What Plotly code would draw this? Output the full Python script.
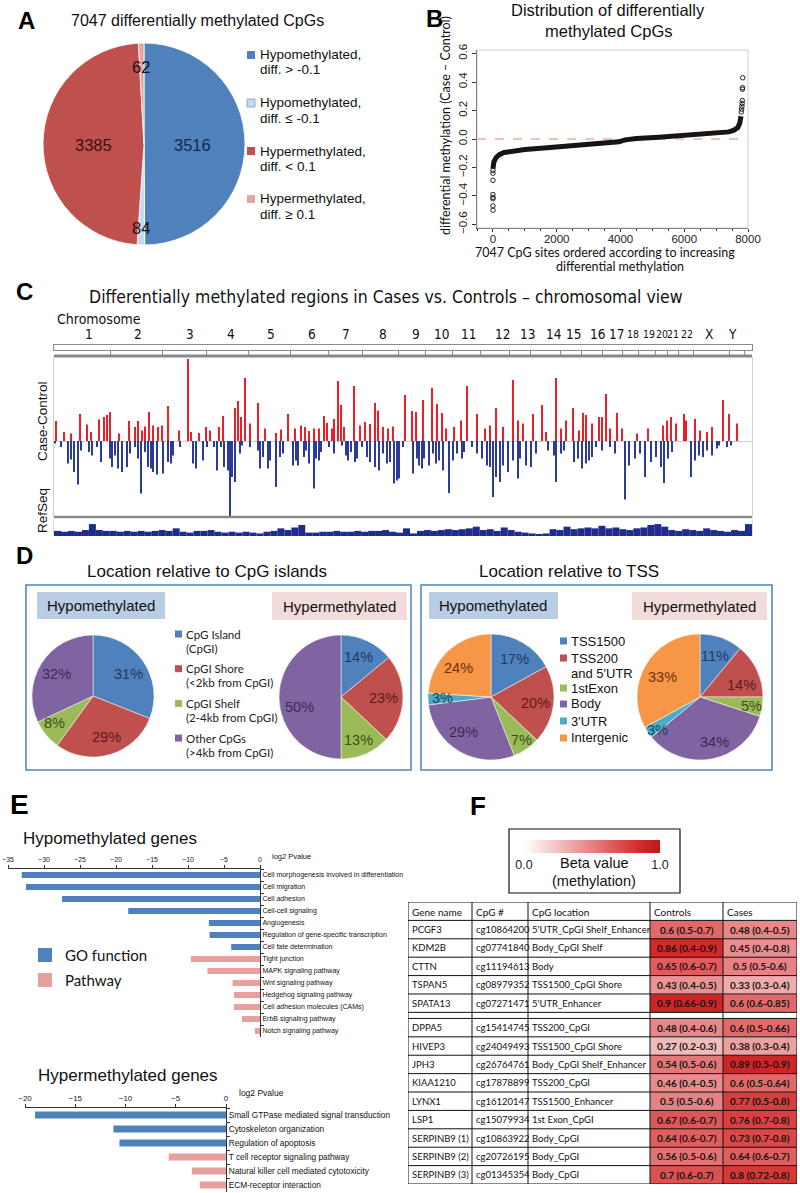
import plotly.graph_objects as go

# ======================= DATA =======================
# Panel A
a_values = [3516, 84, 3385, 62]
a_colors = ["#4f81bd", "#c6d9f1", "#c0504d", "#dfa6a5"]
a_legend = [("Hypomethylated,", "diff. > -0.1"), ("Hypomethylated,", "diff. \u2264 -0.1"),
            ("Hypermethylated,", "diff. < 0.1"), ("Hypermethylated,", "diff. \u2265 0.1")]

# Panel B
b_curve_x = [0, 30, 100, 200, 350, 600, 1000, 1700, 2500, 3300, 3800, 3950, 4150, 4500,
             5200, 5900, 6600, 7100, 7400, 7560, 7680, 7740, 7780]
b_curve_y = [-0.21, -0.16, -0.13, -0.11, -0.095, -0.085, -0.074, -0.062, -0.05, -0.036, -0.027,
             -0.02, -0.006, 0.004, 0.013, 0.022, 0.031, 0.04, 0.05, 0.062, 0.08, 0.11, 0.16]
b_out_x = [0, 0, 0, 0, 0, 0, 0, 0, 7790, 7800, 7810, 7815, 7820, 7825, 7830, 7835]
b_out_y = [-0.24, -0.29, -0.39, -0.41, -0.42, -0.47, -0.5, -0.22, 0.19, 0.21, 0.23, 0.25, 0.27,
           0.35, 0.36, 0.43]

# Panel C (genome position in Mb, Case-Control difference)
chrom_names = ["1", "2", "3", "4", "5", "6", "7", "8", "9", "10", "11", "12", "13", "14", "15",
               "16", "17", "18", "19", "20", "21", "22", "X", "Y"]
chrom_centers = [155, 373, 604, 786, 964, 1146, 1297, 1461, 1608, 1723, 1839, 1990, 2101, 2221,
                 2309, 2412, 2500, 2571, 2642, 2700, 2749, 2811, 2909, 3015]
chrom_bounds = [249, 484, 679, 866, 1052, 1221, 1368, 1532, 1652, 1772, 1892, 2025, 2118, 2251,
                2344, 2438, 2526, 2597, 2673, 2726, 2775, 2842, 3001, 3068]
red_pos = [9, 44, 75, 115, 147, 164, 200, 222, 235, 249, 289, 333, 360, 373, 391, 404, 422, 440,
           462, 480, 506, 555, 595, 608, 644, 675, 693, 733, 750, 804, 817, 830, 848, 870, 906,
           937, 986, 1008, 1039, 1070, 1097, 1114, 1132, 1154, 1177, 1199, 1212, 1234, 1243,
           1261, 1274, 1288, 1332, 1359, 1381, 1403, 1425, 1439, 1461, 1483, 1505, 1558, 1590,
           1607, 1639, 1678, 1701, 1723, 1740, 1776, 1807, 1834, 1878, 1914, 1936, 1963, 1994,
           2038, 2060, 2083, 2127, 2167, 2185, 2229, 2251, 2273, 2304, 2331, 2349, 2362, 2389,
           2420, 2433, 2451, 2469, 2500, 2522, 2589, 2638, 2704, 2722, 2740, 2762, 2798, 2806,
           2846, 2868, 2900, 2922, 2971, 2998, 3033]
red_val = [0.10, 0.045, 0.037, 0.135, 0.083, 0.045, 0.107, 0.12, 0.13, 0.145, 0.037, 0.10, 0.07,
           0.10, 0.053, 0.073, 0.145, 0.078, 0.07, 0.078, 0.175, 0.053, 0.41, 0.045, 0.04, 0.07,
           0.053, 0.07, 0.125, 0.165, 0.20, 0.12, 0.315, 0.087, 0.19, 0.062, 0.04, 0.057, 0.135,
           0.062, 0.078, 0.07, 0.05, 0.062, 0.062, 0.125, 0.09, 0.062, 0.11, 0.30, 0.18, 0.07,
           0.275, 0.078, 0.095, 0.085, 0.19, 0.153, 0.07, 0.062, 0.073, 0.23, 0.15, 0.145, 0.205,
           0.265, 0.185, 0.14, 0.062, 0.07, 0.103, 0.275, 0.135, 0.062, 0.078, 0.165, 0.07, 0.305,
           0.103, 0.087, 0.135, 0.18, 0.045, 0.315, 0.062, 0.103, 0.165, 0.053, 0.14, 0.13, 0.087,
           0.12, 0.12, 0.235, 0.062, 0.14, 0.062, 0.037, 0.062, 0.078, 0.103, 0.12, 0.087, 0.135,
           0.103, 0.11, 0.053, 0.045, 0.07, 0.205, 0.135, 0.087]
blue_pos = [4, 31, 62, 75, 89, 107, 120, 155, 169, 191, 209, 249, 258, 271, 284, 302, 324, 338,
            360, 373, 386, 404, 417, 431, 440, 457, 484, 506, 520, 528, 560, 617, 631, 662, 679,
            711, 724, 742, 755, 773, 782, 790, 804, 826, 835, 870, 906, 915, 928, 950, 959, 986,
            1004, 1017, 1061, 1075, 1084, 1110, 1119, 1132, 1155, 1164, 1177, 1186, 1221, 1243,
            1279, 1297, 1306, 1319, 1337, 1346, 1368, 1390, 1403, 1426, 1443, 1461, 1479, 1492,
            1510, 1523, 1532, 1550, 1594, 1612, 1621, 1634, 1643, 1665, 1683, 1696, 1710, 1728,
            1754, 1772, 1790, 1812, 1821, 1856, 1879, 1901, 1923, 1936, 1950, 1963, 1981, 1994,
            2016, 2038, 2061, 2069, 2096, 2118, 2141, 2194, 2220, 2229, 2252, 2265, 2309, 2327,
            2345, 2363, 2376, 2389, 2407, 2434, 2469, 2491, 2536, 2554, 2580, 2602, 2625, 2651,
            2674, 2696, 2709, 2727, 2745, 2829, 2847, 2864, 2882, 2900, 2922, 2945, 2953, 2989,
            3007]
blue_val = [-0.013, -0.03, -0.113, -0.093, -0.155, -0.217, -0.047, -0.055, -0.072, -0.03,
            -0.105, -0.088, -0.13, -0.072, -0.138, -0.155, -0.13, -0.063, -0.03, -0.088,
            -0.263, -0.055, -0.13, -0.138, -0.155, -0.167, -0.163, -0.105, -0.113, -0.072,
            -0.03, -0.113, -0.138, -0.097, -0.03, -0.03, -0.147, -0.03, -0.13, -0.147,
            -0.377, -0.18, -0.205, -0.063, -0.022, -0.03, -0.047, -0.138, -0.08, -0.138,
            -0.097, -0.23, -0.08, -0.063, -0.122, -0.097, -0.122, -0.08, -0.047, -0.113,
            -0.238, -0.088, -0.097, -0.055, -0.03, -0.063, -0.022, -0.072, -0.097, -0.055,
            -0.105, -0.088, -0.03, -0.08, -0.105, -0.13, -0.147, -0.063, -0.113, -0.105,
            -0.213, -0.197, -0.188, -0.03, -0.163, -0.088, -0.122, -0.138, -0.088, -0.122,
            -0.063, -0.113, -0.097, -0.147, -0.26, -0.097, -0.063, -0.088, -0.055, -0.03,
            -0.063, -0.088, -0.122, -0.13, -0.28, -0.18, -0.205, -0.122, -0.155, -0.097,
            -0.188, -0.088, -0.122, -0.13, -0.063, -0.047, -0.072, -0.205, -0.063, -0.047,
            -0.105, -0.088, -0.138, -0.113, -0.097, -0.08, -0.03, -0.047, -0.03, -0.063,
            -0.293, -0.122, -0.088, -0.063, -0.18, -0.105, -0.08, -0.13, -0.21, -0.088,
            -0.055, -0.18, -0.097, -0.072, -0.08, -0.047, -0.072, -0.038, -0.022, -0.03, -0.022]
refseq_density = [0.3, 0.25, 0.3, 0.25, 0.35, 0.7, 0.35, 0.3, 0.3, 0.25, 0.3, 0.25, 0.3, 0.25,
                  0.3, 0.35, 0.3, 0.45, 0.25, 0.2, 0.3, 0.3, 0.35, 0.25, 0.2, 0.25, 0.2, 0.25,
                  0.2, 0.15, 0.25, 0.3, 0.45, 0.35, 0.5, 0.65, 0.2, 0.2, 0.25, 0.25, 0.3, 0.25,
                  0.25, 0.3, 0.25, 0.3, 0.3, 0.35, 0.25, 0.2, 0.45, 0.15, 0.3, 0.35, 0.3, 0.35,
                  0.4, 0.35, 0.4, 0.45, 0.55, 0.35, 0.4, 0.3, 0.5, 0.35, 0.25, 0.2, 0.15, 0.1,
                  0.15, 0.4, 0.35, 0.55, 0.4, 0.45, 0.5, 0.45, 0.6, 0.45, 0.5, 0.4, 0.35, 0.45,
                  0.5, 0.65, 0.7, 0.55, 0.35, 0.3, 0.4, 0.35, 0.3, 0.45, 0.35, 0.3, 0.25, 0.35,
                  0.3, 0.7]
refseq_bin_mb = 31

# Panel D
cpg_cats = ["CpG Island", "CpGI Shore", "CpGI Shelf", "Other CpGs"]
cpg_legend = [("CpG Island", "(CpGI)"), ("CpGI Shore", "(<2kb from CpGI)"),
              ("CpGI Shelf", "(2-4kb from CpGI)"), ("Other CpGs", "(>4kb from CpGI)")]
cpg_hypo = [31, 29, 8, 32]
cpg_hyper = [14, 23, 13, 50]
tss_cats = ["TSS1500", "TSS200 and 5'UTR", "1stExon", "Body", "3'UTR", "Intergenic"]
tss_legend = [("TSS1500",), ("TSS200", "and 5'UTR"), ("1stExon",), ("Body",), ("3'UTR",), ("Intergenic",)]
tss_hypo = [17, 20, 7, 29, 3, 24]
tss_hyper = [11, 14, 5, 34, 3, 33]
d_colors = ["#4f81bd", "#c0504d", "#9bbb59", "#8064a2", "#4bacc6", "#f79646"]
d_text_colors = ["#1f3864", "#5c1a19", "#3d4f1c", "#3a2a52", "#17475a", "#6b3309"]

# Panel E
hypo_terms = ["Cell morphogenesis involved in differentiation", "Cell migration", "Cell adhesion",
              "Cell-cell signaling", "Angiogenesis", "Regulation of gene-specific transcription",
              "Cell fate determination", "Tight junction", "MAPK signaling pathway",
              "Wnt signaling pathway", "Hedgehog signaling pathway", "Cell adhesion molecules (CAMs)",
              "ErbB signaling pathway", "Notch signaling pathway"]
hypo_log2p = [-33.1, -32.5, -27.5, -18.3, -7.1, -7.0, -4.0, -9.6, -7.3, -3.8, -3.6, -3.6, -2.5, -0.7]
hypo_kind = ["GO", "GO", "GO", "GO", "GO", "GO", "GO",
             "Pathway", "Pathway", "Pathway", "Pathway", "Pathway", "Pathway", "Pathway"]
hyper_terms = ["Small GTPase mediated signal transduction", "Cytoskeleton organization",
               "Regulation of apoptosis", "T cell receptor signaling pathway",
               "Natural killer cell mediated cytotoxicity", "ECM-receptor interaction"]
hyper_log2p = [-19.0, -11.2, -10.6, -5.7, -3.4, -2.6]
hyper_kind = ["GO", "GO", "GO", "Pathway", "Pathway", "Pathway"]
hypo_ticks = [-35, -30, -25, -20, -15, -10, -5, 0]
hyper_ticks = [-20, -15, -10, -5, 0]

# Panel F
tbl_header = ["Gene name", "CpG #", "CpG location", "Controls", "Cases"]
top_genes = ["PCGF3", "KDM2B", "CTTN", "TSPAN5", "SPATA13"]
top_cpg = ["cg10864200", "cg07741840", "cg11194613", "cg08979352", "cg07271471"]
top_loc = ["5'UTR_CpGI Shelf_Enhancer", "Body_CpGI Shelf", "Body", "TSS1500_CpGI Shore", "5'UTR_Enhancer"]
top_ctrl = [0.6, 0.86, 0.65, 0.43, 0.9]
top_ctrl_rng = ["0.5-0.7", "0.4-0.9", "0.6-0.7", "0.4-0.5", "0.66-0.9"]
top_case = [0.48, 0.45, 0.5, 0.33, 0.6]
top_case_rng = ["0.4-0.5", "0.4-0.8", "0.5-0.6", "0.3-0.4", "0.6-0.85"]
bot_genes = ["DPPA5", "HIVEP3", "JPH3", "KIAA1210", "LYNX1", "LSP1", "SERPINB9 (1)",
             "SERPINB9 (2)", "SERPINB9 (3)"]
bot_cpg = ["cg15414745", "cg24049493", "cg26764761", "cg17878899", "cg16120147", "cg15079934",
           "cg10863922", "cg20726195", "cg01345354"]
bot_loc = ["TSS200_CpGI", "TSS1500_CpGI Shore", "Body_CpGI Shelf_Enhancer", "TSS200_CpGI",
           "TSS1500_Enhancer", "1st Exon_CpGI", "Body_CpGI", "Body_CpGI", "Body_CpGI"]
bot_ctrl = [0.48, 0.27, 0.54, 0.46, 0.5, 0.67, 0.64, 0.56, 0.7]
bot_ctrl_rng = ["0.4-0.6", "0.2-0.3", "0.5-0.6", "0.4-0.5", "0.5-0.6", "0.6-0.7", "0.6-0.7",
                "0.5-0.6", "0.6-0.7"]
bot_case = [0.6, 0.38, 0.89, 0.6, 0.77, 0.76, 0.73, 0.64, 0.8]
bot_case_rng = ["0.5-0.66", "0.3-0.4", "0.5-0.9", "0.5-0.64", "0.5-0.8", "0.7-0.8", "0.7-0.8",
                "0.6-0.7", "0.72-0.8"]
beta_scale = [[0, "#ffffff"], [0.85, "#d42a2a"], [1, "#b81a1a"]]
col_widths = [64, 56, 122, 73, 74]

# ======================= HELPERS =======================
W, H = 800, 1193
ARIAL = "Liberation Sans, Arial, sans-serif"
NARROW = "Liberation Sans Narrow, Arial Narrow, DejaVu Sans Condensed, Liberation Sans, sans-serif"
CAL = "Lato, Carlito, Calibri, sans-serif"


def fx(p):
    return p / W


def fy(p):
    return 1 - p / H


annotations = []
shapes = []


def ann(x, y, text, size=12, color="#111", family=ARIAL, xanchor="center", yanchor="middle",
        angle=0, xref="paper"):
    annotations.append(dict(x=fx(x) if xref == "paper" else x, y=fy(y), xref=xref, yref="paper",
                            text=text, showarrow=False, textangle=angle,
                            font=dict(size=size, color=color, family=family),
                            xanchor=xanchor, yanchor=yanchor))


def rect(x0, y0, x1, y1, fill="rgba(0,0,0,0)", line=None, lw=1, layer="above"):
    shapes.append(dict(type="rect", xref="paper", yref="paper", x0=fx(x0), x1=fx(x1),
                       y0=fy(y1), y1=fy(y0), fillcolor=fill, layer=layer,
                       line=dict(color=line if line else "rgba(0,0,0,0)", width=lw if line else 0)))


def hline(x0, x1, y, color, width=1, dash="solid"):
    shapes.append(dict(type="line", xref="paper", yref="paper", x0=fx(x0), x1=fx(x1),
                       y0=fy(y), y1=fy(y), line=dict(color=color, width=width, dash=dash)))


def pie_domain(cx, cy, r):
    return dict(x=[fx(cx - r), fx(cx + r)], y=[fy(cy + r), fy(cy - r)])


fig = go.Figure()

# ======================= PANEL A =======================
ann(26, 20, "<b>A</b>", 24, "#000")
ann(197, 20, "7047 differentially methylated CpGs", 16, "#111")
fig.add_trace(go.Pie(values=a_values, marker=dict(colors=a_colors, line=dict(color="white", width=0.8)),
                     sort=False, direction="clockwise", textinfo="none", hoverinfo="value",
                     domain=pie_domain(144, 144, 101), showlegend=False))
ann(192, 145, str(a_values[0]), 16.5, "#14284b")
ann(141, 228, str(a_values[1]), 16.5, "#111")
ann(93, 145, str(a_values[2]), 16.5, "#3b1010")
ann(141, 67, str(a_values[3]), 16.5, "#111")
for i, (l1, l2) in enumerate(a_legend):
    y0 = 55 + i * 48
    rect(247, y0 - 4, 255, y0 + 4, fill=a_colors[i],
         line="#7f9fc6" if i == 1 else None, lw=0.8)
    ann(258, y0, l1, 13.5, "#111", xanchor="left")
    ann(258, y0 + 15, l2, 13.5, "#111", xanchor="left")

# ======================= PANEL B =======================
ann(434, 18, "<b>B</b>", 24, "#000")
ann(608, 10, "Distribution of differentially", 16.5, "#111")
ann(608, 31, "methylated CpGs", 16.5, "#111")
fig.add_trace(go.Scatter(x=b_curve_x, y=b_curve_y, mode="lines", line=dict(color="#151515", width=5),
                         xaxis="x", yaxis="y", showlegend=False, hoverinfo="skip"))
fig.add_trace(go.Scatter(x=b_out_x, y=b_out_y, mode="markers", xaxis="x", yaxis="y", showlegend=False,
                         marker=dict(symbol="circle-open", size=4.5, color="#222", line=dict(width=1)),
                         hoverinfo="skip"))
rect(477, 50, 748, 228, line="#cfcfcf", lw=1)
ann(445, 126, "differential methylation (Case \u2013 Control)", 12.5, "#111", family=CAL, angle=-90)
ann(605, 252, "7047 CpG sites ordered according to increasing", 12.5, "#111", family=CAL)
ann(620, 267, "differential methylation", 12.5, "#111", family=CAL)

# ======================= PANEL C =======================
ann(24, 292, "<b>C</b>", 24, "#000")
ann(386, 297, "Differentially methylated regions in Cases vs. Controls \u2013 chromosomal view", 17.5,
    "#111", family=NARROW)
ann(55, 319, "Chromosome", 14, "#111", family=NARROW, xanchor="left")
for name, c in zip(chrom_names, chrom_centers):
    sz = 10.5 if name in ("18", "19", "20", "21", "22") else 13.5
    ann(c, 334, name, sz, "#111", family=NARROW, xref="x3")
fig.add_trace(go.Bar(x=red_pos, y=red_val, width=4.6, marker=dict(color="#e8202a", line=dict(width=0)),
                     xaxis="x2", yaxis="y2", showlegend=False, hoverinfo="skip"))
fig.add_trace(go.Bar(x=blue_pos, y=blue_val, width=4.6, marker=dict(color="#2c3b9a", line=dict(width=0)),
                     xaxis="x2", yaxis="y2", showlegend=False, hoverinfo="skip"))
fig.add_trace(go.Bar(x0=refseq_bin_mb / 2, dx=refseq_bin_mb, y=refseq_density, width=refseq_bin_mb,
                     marker=dict(color="#1f2b8e", line=dict(width=0)), xaxis="x4", yaxis="y4",
                     showlegend=False, hoverinfo="skip"))
fig.add_trace(go.Scatter(x=chrom_centers, y=[0.5] * len(chrom_centers), mode="markers",
                         marker=dict(size=1, opacity=0), xaxis="x3", yaxis="y3", showlegend=False,
                         hoverinfo="skip"))
hline(54, 752, 356, "#8a8a8a", 3)
hline(54, 752, 517, "#8a8a8a", 2.5)
ann(42, 421, "Case-Control", 13.5, "#111", angle=-90)
ann(42, 511, "RefSeq", 13.5, "#111", angle=-90)

# ======================= PANEL D =======================
ann(24, 555, "<b>D</b>", 24, "#000")
ann(207, 571, "Location relative to CpG islands", 17, "#111")
ann(569, 571, "Location relative to TSS", 17, "#111")
rect(26, 585, 411, 770, line="#4f81bd", lw=1.5)
rect(421, 585, 772, 770, line="#4f81bd", lw=1.5)
for (x0, x1) in [(37, 165), (429, 558)]:
    rect(x0, 592, x1, 619, fill="#b9cde5", layer="below")
    ann((x0 + x1) / 2, 605.5, "Hypomethylated", 15, "#111")
for (x0, x1) in [(272, 407), (632, 767)]:
    rect(x0, 592, x1, 620, fill="#f2dcdb", layer="below")
    ann((x0 + x1) / 2, 606, "Hypermethylated", 15, "#111")

for vals, (cx, cy, r) in [(cpg_hypo, (93, 696, 61)), (cpg_hyper, (341, 697, 62))]:
    fig.add_trace(go.Pie(values=vals, labels=cpg_cats, marker=dict(colors=d_colors[:4],
                         line=dict(color="white", width=0.5)), sort=False, direction="clockwise",
                         textinfo="none", hoverinfo="label+value", domain=pie_domain(cx, cy, r),
                         showlegend=False))
for vals, (cx, cy, r) in [(tss_hypo, (491, 697, 63)), (tss_hyper, (700, 697, 63))]:
    fig.add_trace(go.Pie(values=vals, labels=tss_cats, marker=dict(colors=d_colors,
                         line=dict(color="white", width=0.5)), sort=False, direction="clockwise",
                         textinfo="none", hoverinfo="label+value", domain=pie_domain(cx, cy, r),
                         showlegend=False))

cpg_hypo_pos = [(128, 674), (106, 737), (54, 723), (57, 674)]
cpg_hyper_pos = [(358, 657), (383, 698), (358, 740), (299, 707)]
tss_hypo_pos = [(514, 659), (535, 703), (521, 740), (463, 732), (442, 698), (458, 668)]
tss_hyper_pos = [(715, 656), (741, 685), (751, 706), (714, 742), (657, 730), (662, 677)]
for vals, pos in [(cpg_hypo, cpg_hypo_pos), (cpg_hyper, cpg_hyper_pos),
                  (tss_hypo, tss_hypo_pos), (tss_hyper, tss_hyper_pos)]:
    for i, (v, (x, y)) in enumerate(zip(vals, pos)):
        ann(x, y, f"{v}%", 14.5, d_text_colors[i])

for i, (l1, l2) in enumerate(cpg_legend):
    y0 = 634 + i * 34.7
    rect(175, y0 - 3.5, 182, y0 + 3.5, fill=d_colors[i])
    ann(184, y0, l1, 11.5, "#222", family=CAL, xanchor="left")
    ann(184, y0 + 14, l2, 11.5, "#222", family=CAL, xanchor="left")
tss_y = [641, 658, 688, 704, 721, 738]
for i, lines in enumerate(tss_legend):
    rect(560, tss_y[i] - 3.5, 567, tss_y[i] + 3.5, fill=d_colors[i])
    ann(569, tss_y[i], lines[0], 13, "#111", xanchor="left")
    if len(lines) > 1:
        ann(569, tss_y[i] + 15, lines[1], 13, "#111", xanchor="left")

# ======================= PANEL E =======================
GO_C, PW_C = "#4f81bd", "#e6a09e"
ann(19, 805, "<b>E</b>", 28, "#000")
ann(21, 838, "Hypomethylated genes", 17, "#111", xanchor="left")
ann(36, 1075, "Hypermethylated genes", 17, "#111", xanchor="left")
for kind, col in [("GO", GO_C), ("Pathway", PW_C)]:
    fig.add_trace(go.Bar(y=[t for t, k in zip(hypo_terms, hypo_kind) if k == kind],
                         x=[v for v, k in zip(hypo_log2p, hypo_kind) if k == kind],
                         orientation="h", width=0.5, marker=dict(color=col, line=dict(width=0)),
                         xaxis="x5", yaxis="y5", showlegend=False, hoverinfo="x+y"))
    fig.add_trace(go.Bar(y=[t for t, k in zip(hyper_terms, hyper_kind) if k == kind],
                         x=[v for v, k in zip(hyper_log2p, hyper_kind) if k == kind],
                         orientation="h", width=0.5, marker=dict(color=col, line=dict(width=0)),
                         xaxis="x6", yaxis="y6", showlegend=False, hoverinfo="x+y"))
ann(270, 856, "log2 Pvalue", 7.5, "#111", xanchor="left")
ann(237, 1093, "log2 Pvalue", 8.5, "#111", xanchor="left")
rect(38, 948, 52, 962, fill=GO_C)
rect(38, 973, 52, 987, fill=PW_C)
ann(63, 955, "GO function", 15, "#111", family=CAL, xanchor="left")
ann(63, 980, "Pathway", 15, "#111", family=CAL, xanchor="left")

# ======================= PANEL F =======================
ann(478, 806, "<b>F</b>", 26, "#000")
rect(509, 829, 680, 893, line="#111", lw=1.2)
ann(594, 863, "Beta value", 14.5, "#111")
ann(594, 881, "(methylation)", 14.5, "#111")

col_edges = [0]
for w_ in col_widths:
    col_edges.append(col_edges[-1] + w_)
n_top, n_bot, gap = len(top_genes), len(bot_genes), 0.33
row_edges = [float(i) for i in range(n_top + 2)]            # header + top rows
row_edges += [n_top + 1 + gap + i for i in range(n_bot + 1)]  # gap + bottom rows
top_rows_mid = [1.5 + i for i in range(n_top)]
bot_rows_mid = [n_top + 1 + gap + 0.5 + i for i in range(n_bot)]
z = [[c, k] for c, k in zip(top_ctrl, top_case)] + [[None, None]] + \
    [[c, k] for c, k in zip(bot_ctrl, bot_case)]
fig.add_trace(go.Heatmap(
    x=col_edges[3:], y=row_edges[1:], z=z, colorscale=beta_scale, zmin=0, zmax=1,
    xaxis="x8", yaxis="y8", hoverinfo="z", showscale=True,
    colorbar=dict(orientation="h", x=fx(592), xanchor="center", y=fy(840), yanchor="top",
                  len=136, lenmode="pixels", thickness=13, thicknessmode="pixels", xpad=0,
                  ypad=0, outlinewidth=0, tickvals=[0, 1], ticktext=["0.0", "1.0"], ticks="",
                  tickfont=dict(size=12.5, family=ARIAL, color="#222"))))
y_max = row_edges[-1]
for e in col_edges:
    shapes.append(dict(type="line", xref="x8", yref="y8", x0=e, x1=e, y0=0, y1=y_max,
                       line=dict(color="#111", width=1)))
for e in row_edges:
    shapes.append(dict(type="line", xref="x8", yref="y8", x0=0, x1=col_edges[-1], y0=e, y1=e,
                       line=dict(color="#111", width=1)))

TF = CAL


def tcell(x, y, text, bold=False, xanchor="left", size=9.5):
    annotations.append(dict(x=x, y=y, xref="x8", yref="y8", text=f"<b>{text}</b>" if bold else text,
                            showarrow=False, xanchor=xanchor, yanchor="middle",
                            font=dict(size=size, family=TF, color="#111")))


for j, h in enumerate(tbl_header):
    tcell(col_edges[j] + 2, 0.55, h, size=10)
for rows_mid, genes, cpgs, locs, cv, cr, kv, kr in [
        (top_rows_mid, top_genes, top_cpg, top_loc, top_ctrl, top_ctrl_rng, top_case, top_case_rng),
        (bot_rows_mid, bot_genes, bot_cpg, bot_loc, bot_ctrl, bot_ctrl_rng, bot_case, bot_case_rng)]:
    for i, ym in enumerate(rows_mid):
        tcell(col_edges[0] + 2, ym, genes[i])
        tcell(col_edges[1] + 2, ym, cpgs[i])
        tcell(col_edges[2] + 2, ym, locs[i])
        tcell((col_edges[3] + col_edges[4]) / 2, ym, f"{cv[i]} ({cr[i]})", bold=True, xanchor="center",
              size=10)
        tcell((col_edges[4] + col_edges[5]) / 2, ym, f"{kv[i]} ({kr[i]})", bold=True, xanchor="center",
              size=10)

# ======================= LAYOUT =======================
tick_font_b = dict(size=11.5, family=ARIAL, color="#222")
fig.update_layout(
    width=W, height=H, margin=dict(l=0, r=0, t=0, b=0, autoexpand=False), paper_bgcolor="white",
    plot_bgcolor="rgba(0,0,0,0)", showlegend=False, barmode="overlay",
    annotations=annotations, shapes=shapes + [
        dict(type="line", xref="x", yref="y", x0=-500, x1=8000, y0=0, y1=0,
             line=dict(color="#e8845a", width=1, dash="dash"), layer="below")],
    # Panel B
    xaxis=dict(domain=[fx(477), fx(748)], range=[-500, 8000], anchor="y", showgrid=False,
               zeroline=False, showline=True, linecolor="#333", ticks="outside", ticklen=3,
               tickcolor="#333", tickvals=[0, 2000, 4000, 6000, 8000], tickfont=tick_font_b,
               ticklabelstandoff=-3,
               minor=dict(ticks="outside", ticklen=2, dtick=500, tick0=0, tickcolor="#333")),
    yaxis=dict(domain=[fy(228), fy(50)], range=[-0.625, 0.625], anchor="x", showgrid=False,
               zeroline=False, showline=True, linecolor="#333", ticks="outside", ticklen=4,
               tickcolor="#333", tickvals=[-0.6, -0.4, -0.2, 0, 0.2, 0.4, 0.6], tickformat=".1f",
               tickangle=-90, tickfont=tick_font_b),
    # Panel C main
    xaxis2=dict(domain=[fx(54), fx(752)], range=[0, 3100], anchor="y2", visible=False),
    yaxis2=dict(domain=[fy(517), fy(357)], range=[-0.38, 0.42], anchor="x2", showgrid=False,
                zeroline=True, zerolinecolor="#d0d0d0", zerolinewidth=1, showline=True,
                mirror=True, linecolor="#cfcfcf", showticklabels=False, ticks=""),
    # Panel C ideogram
    xaxis3=dict(domain=[fx(54), fx(752)], range=[0, 3100], anchor="y3", showgrid=False,
                zeroline=False, showline=True, mirror=True, linecolor="#8a8a8a",
                tickvals=chrom_bounds, ticks="outside", ticklen=4, tickcolor="#8a8a8a",
                showticklabels=False),
    yaxis3=dict(domain=[fy(350), fy(345)], range=[0, 1], anchor="x3", showgrid=False,
                zeroline=False, showline=True, mirror=True, linecolor="#8a8a8a",
                showticklabels=False, ticks=""),
    # Panel C RefSeq
    xaxis4=dict(domain=[fx(54), fx(752)], range=[0, 3100], anchor="y4", visible=False),
    yaxis4=dict(domain=[fy(536), fy(519)], range=[0, 1.0], anchor="x4", showgrid=False,
                zeroline=False, showline=True, mirror=True, linecolor="#dddddd",
                showticklabels=False, ticks=""),
    # Panel E hypo
    xaxis5=dict(domain=[fx(8), fx(260)], range=[-35, 0], anchor="y5", side="top", showgrid=False,
                zeroline=False, showline=True, linecolor="#333", ticks="outside", ticklen=3,
                tickcolor="#333", tickvals=hypo_ticks, tickfont=dict(size=7, family=ARIAL, color="#222")),
    yaxis5=dict(domain=[fy(1037), fy(869)], anchor="x5", side="right", type="category",
                categoryorder="array", categoryarray=hypo_terms, autorange="reversed",
                showgrid=False, zeroline=False, showline=True, linecolor="#333", ticks="outside",
                ticklen=3, tickcolor="#333", tickson="boundaries",
                tickfont=dict(size=7, family=ARIAL, color="#111")),
    # Panel E hyper
    xaxis6=dict(domain=[fx(25), fx(226)], range=[-20, 0], anchor="y6", side="top", showgrid=False,
                zeroline=False, showline=True, linecolor="#333", ticks="outside", ticklen=3,
                tickcolor="#333", tickvals=hyper_ticks, tickfont=dict(size=8, family=ARIAL, color="#222")),
    yaxis6=dict(domain=[fy(1192), fy(1108)], anchor="x6", side="right", type="category",
                categoryorder="array", categoryarray=hyper_terms, autorange="reversed",
                showgrid=False, zeroline=False, showline=True, linecolor="#333", ticks="outside",
                ticklen=3, tickcolor="#333", tickson="boundaries",
                tickfont=dict(size=8.3, family=ARIAL, color="#111")),
    # Panel F table grid
    xaxis8=dict(domain=[fx(408), fx(797)], range=[0, col_edges[-1]], anchor="y8", visible=False),
    yaxis8=dict(domain=[fy(1184), fy(902)], range=[row_edges[-1], 0], anchor="x8", visible=False),
)

fig.write_html("out.html", config={"displayModeBar": False},
               post_script="document.body.style.margin='0px';document.body.style.overflow='hidden';")
